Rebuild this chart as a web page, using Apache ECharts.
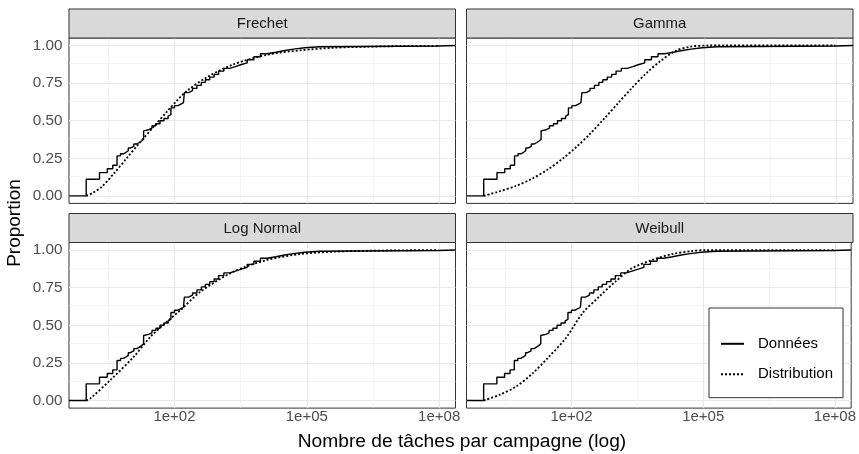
<!DOCTYPE html>
<html><head><meta charset="utf-8">
<script src="https://cdn.jsdelivr.net/npm/echarts@6/dist/echarts.min.js"></script>
<style>html,body{margin:0;padding:0;background:#fff}#c{width:859px;height:454px}</style>
</head><body><div id="c"></div>
<script>
// ---- data (x values are log10 of the number of tasks) ----
const panels = ['Frechet', 'Gamma', 'Log Normal', 'Weibull'];
const xTicks = [2, 5, 8];
const xTickLabels = ['1e+02', '1e+05', '1e+08'];
const xMinor = [0.5, 3.5, 6.5];
const yTicks = [0, 0.25, 0.5, 0.75, 1];
const yTickLabels = ['0.00', '0.25', '0.50', '0.75', '1.00'];
const yMinor = [0.125, 0.375, 0.625, 0.875];

// empirical CDF (same data in every panel)
const ecdfLog = [0, 0.301, 0.477, 0.602, 0.699, 0.778, 0.845, 0.903, 0.954, 1.0, 1.079, 1.146, 1.204, 1.255, 1.301,
  1.342, 1.415, 1.491, 1.580, 1.672, 1.763, 1.857, 1.892, 1.92, 2.0, 2.08, 2.146, 2.204, 2.225, 2.32, 2.41, 2.51, 2.61,
  2.70, 2.80, 2.90, 3.0, 3.12, 3.25, 3.38, 3.5, 3.65, 3.8, 3.95, 4.1, 4.3, 4.5, 4.7, 4.95, 5.3, 7.97];
const ecdfP = [0.111, 0.155, 0.18, 0.204, 0.266, 0.28, 0.29, 0.30, 0.318, 0.33, 0.345, 0.355, 0.365, 0.377, 0.432,
  0.44, 0.45, 0.466, 0.48, 0.50, 0.515, 0.53, 0.54, 0.585, 0.60, 0.61, 0.62, 0.627, 0.687, 0.70, 0.715, 0.735, 0.755,
  0.772, 0.79, 0.808, 0.83, 0.848, 0.86, 0.872, 0.885, 0.905, 0.925, 0.945, 0.955, 0.967, 0.976, 0.985, 0.992, 0.997, 1.0];

// fitted distributions
const frechetLog = [0, 0.15, 0.35, 0.63, 0.93, 1.23, 1.53, 1.83, 2.06, 2.29, 2.74, 3.34, 4.1, 4.85, 5.6, 6.36, 7.11, 7.97];
const frechetP = [0, 0.02, 0.06, 0.15, 0.255, 0.36, 0.46, 0.56, 0.635, 0.70, 0.79, 0.875, 0.938, 0.968, 0.985, 0.992, 0.996, 0.998];
const gammaLog = [0, 0.3, 0.72, 1.1, 1.45, 1.8, 2.1, 2.4, 2.75, 3.04, 3.35, 3.7, 4.0, 4.35, 4.7, 5.1, 7.97];
const gammaP = [0, 0.025, 0.065, 0.115, 0.175, 0.25, 0.325, 0.41, 0.52, 0.615, 0.715, 0.82, 0.895, 0.965, 0.993, 1.0, 1.0];
const lognormLog = [0, 0.10, 0.55, 1.08, 1.46, 1.83, 2.14, 2.59, 3.34, 4.1, 4.85, 5.6, 6.36, 7.2, 7.97];
const lognormP = [0, 0.016, 0.137, 0.292, 0.425, 0.524, 0.602, 0.723, 0.856, 0.934, 0.973, 0.989, 0.995, 0.998, 1.0];
const weibullLog = [0, 0.36, 0.74, 1.12, 1.49, 1.87, 2.25, 2.63, 3.0, 3.38, 3.84, 4.29, 4.74, 5.05, 7.97];
const weibullP = [0, 0.038, 0.093, 0.182, 0.292, 0.414, 0.58, 0.69, 0.79, 0.879, 0.934, 0.973, 0.993, 1.0, 1.0];

const distLog = [frechetLog, gammaLog, lognormLog, weibullLog];
const distP = [frechetP, gammaP, lognormP, weibullP];

// ---- layout / style ----
const X_MIN = -0.39, X_MAX = 8.37, Y_MIN = -0.05, Y_MAX = 1.05;
const FONT = '"Liberation Sans", Arial, Helvetica, sans-serif';
const colLeft = [69, 466.5], panelW = 386.5;
const rowTop = [38, 242.5], panelH = [165.4, 165.6], stripH = 29;

const chart = echarts.init(document.getElementById('c'), null, {renderer: 'canvas'});
const grids = [], xAxes = [], yAxes = [], series = [], graphics = [];

panels.forEach((name, i) => {
  const c = i % 2, r = Math.floor(i / 2);
  grids.push({left: colLeft[c], top: rowTop[r], width: panelW, height: panelH[r], show: true,
    backgroundColor: '#ffffff', borderColor: '#333333', borderWidth: 1, containLabel: false});
  xAxes.push({type: 'value', gridIndex: i, min: X_MIN, max: X_MAX,
    axisLine: {show: false}, splitLine: {show: false},
    axisTick: {show: r === 1, customValues: xTicks, length: 3.7, lineStyle: {color: '#333333', width: 1}},
    axisLabel: {show: r === 1, customValues: xTicks, margin: 1.5, color: '#4d4d4d', fontSize: 15, fontFamily: FONT,
      formatter: v => xTickLabels[xTicks.indexOf(v)]}});
  yAxes.push({type: 'value', gridIndex: i, min: Y_MIN, max: Y_MAX,
    axisLine: {show: false}, splitLine: {show: false},
    axisTick: {show: c === 0, customValues: yTicks, length: 3.7, lineStyle: {color: '#333333', width: 1}},
    axisLabel: {show: c === 0, customValues: yTicks, margin: 6.5, color: '#4d4d4d', fontSize: 15.3, fontFamily: FONT,
      formatter: v => yTickLabels[yTicks.indexOf(v)]}});
  const gl = [];
  xMinor.forEach(v => gl.push({xAxis: v, lineStyle: {color: '#ebebeb', width: 0.6, type: 'solid'}}));
  yMinor.forEach(v => gl.push({yAxis: v, lineStyle: {color: '#ebebeb', width: 0.6, type: 'solid'}}));
  xTicks.forEach(v => gl.push({xAxis: v, lineStyle: {color: '#e8e8e8', width: 1.2, type: 'solid'}}));
  yTicks.forEach(v => gl.push({yAxis: v, lineStyle: {color: '#e8e8e8', width: 1.2, type: 'solid'}}));
  series.push({type: 'line', xAxisIndex: i, yAxisIndex: i, data: [], z: 1, silent: true,
    markLine: {silent: true, z: 1, symbol: ['none', 'none'], label: {show: false}, animation: false, data: gl}});
  const ecdf = [[X_MIN, 0]].concat(ecdfLog.map((l, k) => [l, ecdfP[k]])).concat([[X_MAX, 1]]);
  series.push({name: 'Données', type: 'line', xAxisIndex: i, yAxisIndex: i, data: ecdf, step: 'end',
    symbol: 'none', z: 3, lineStyle: {color: '#000000', width: 1.4, type: 'solid'}, itemStyle: {color: '#000000'}});
  series.push({name: 'Distribution', type: 'line', xAxisIndex: i, yAxisIndex: i,
    data: distLog[i].map((l, k) => [l, distP[i][k]]), smooth: 0.3,
    symbol: 'none', z: 4, lineStyle: {color: '#000000', width: 1.8, type: [2, 2]}, itemStyle: {color: '#000000'}});
  // strip
  graphics.push({type: 'rect', shape: {x: colLeft[c], y: rowTop[r] - stripH, width: panelW, height: stripH},
    style: {fill: '#d9d9d9', stroke: '#333333', lineWidth: 1}, z: 10});
  graphics.push({type: 'text', x: colLeft[c] + panelW / 2, y: rowTop[r] - stripH / 2 + 0.5, z: 11,
    style: {text: name, fill: '#1a1a1a', font: '15px ' + FONT, align: 'center', verticalAlign: 'middle'}});
});

graphics.push({type: 'text', x: 462, y: 442, z: 11,
  style: {text: 'Nombre de tâches par campagne (log)', fill: '#000000', font: '19.2px ' + FONT, align: 'center', verticalAlign: 'middle'}});
graphics.push({type: 'text', x: 15, y: 223, rotation: Math.PI / 2, z: 11,
  style: {text: 'Proportion', fill: '#000000', font: '19px ' + FONT, align: 'center', verticalAlign: 'middle'}});

chart.setOption({
  animation: false,
  grid: grids, xAxis: xAxes, yAxis: yAxes, series: series, graphic: graphics,
  legend: {data: ['Données', 'Distribution'], orient: 'vertical', left: 709, top: 308,
    padding: [28.3, 10, 16, 11], itemGap: 15.4, itemWidth: 23, itemHeight: 14,
    borderColor: '#333333', borderWidth: 1, backgroundColor: '#ffffff', selectedMode: false,
    itemStyle: {color: 'rgba(0,0,0,0)', borderColor: 'rgba(0,0,0,0)', borderWidth: 0, opacity: 0},
    textStyle: {color: '#000000', fontSize: 15, lineHeight: 14, fontFamily: FONT, padding: [0, 0, 0, 9]}}
});
</script></body></html>
